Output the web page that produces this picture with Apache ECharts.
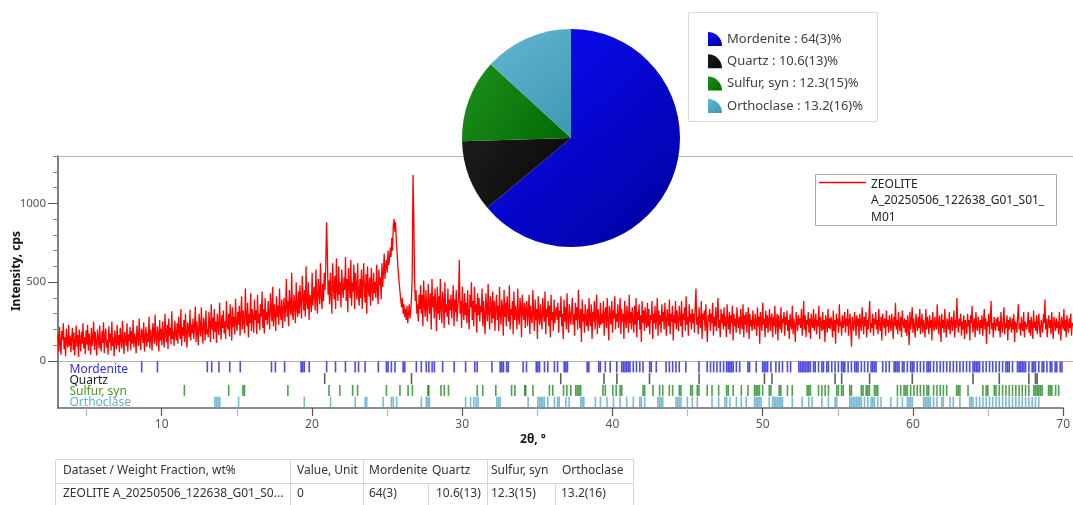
<!DOCTYPE html>
<html><head><meta charset="utf-8">
<script src="https://cdn.jsdelivr.net/npm/echarts@6/dist/echarts.min.js"></script>
<style>html,body{margin:0;padding:0;background:#fff;overflow:hidden}#c{width:1073px;height:505px}</style>
</head><body><div id="c"></div>
<script>
// ---------- DATA ----------
const datasetName = 'ZEOLITE A_20250506_122638_G01_S01_M01';
const twoThetaStart = 3.1;
const twoThetaStep = 0.05;
const intensity = [
 170,60,215,110,40,190,135,240,75,150,30,205,120,85,230,95,160,55,
 140,210,70,180,35,120,225,90,165,25,200,130,60,185,110,240,80,150,45,195,
 105,230,65,175,130,40,210,95,155,250,70,185,120,35,200,145,80,225,100,60,
 190,115,245,50,160,205,85,135,40,220,120,175,65,250,95,150,30,195,140,75,
 230,100,165,55,210,140,80,255,120,45,185,150,95,240,60,170,125,215,70,190,
 110,260,85,175,140,50,225,160,95,270,130,70,205,180,115,245,60,150,215,90,
 175,120,280,80,200,150,65,240,190,110,295,140,95,220,170,60,260,130,205,100,
 250,145,85,300,180,120,230,75,270,160,210,105,315,140,190,95,255,175,130,240,
 110,280,190,140,330,95,215,160,260,120,300,180,85,245,205,150,325,130,230,175,
 270,140,210,345,120,250,180,100,300,220,155,340,190,110,275,235,130,320,170,205,
 150,310,230,120,360,200,275,140,330,185,250,115,300,220,165,370,240,135,290,210,
 320,175,250,140,380,230,200,300,155,360,260,130,340,215,280,170,395,245,190,310,
 230,350,160,290,410,200,320,250,175,460,280,220,370,150,300,240,430,190,330,270,
 180,390,260,320,170,420,240,300,195,360,280,440,210,330,175,400,260,310,230,380,
 290,200,430,330,250,470,220,360,300,190,410,280,350,230,460,310,260,390,210,340,
 400,250,330,520,280,380,220,450,340,290,560,310,260,420,370,240,500,330,280,440,
 300,480,360,270,540,410,320,450,280,600,370,330,500,260,420,390,310,560,350,440,
 470,320,580,390,300,520,440,360,620,410,330,490,380,560,450,600,880,700,420,510,
 360,560,430,300,620,480,390,540,330,650,450,380,600,420,500,340,580,460,400,530,
 450,660,380,520,310,590,470,400,640,350,500,440,610,330,560,480,390,620,420,350,
 520,400,580,330,490,620,440,370,550,300,600,460,410,530,350,590,470,380,560,430,
 500,400,610,450,360,580,480,530,390,620,470,560,680,520,600,640,560,700,610,650,
 720,660,780,700,860,900,820,880,760,690,600,540,480,430,380,340,400,300,360,280,
 330,260,350,240,300,360,270,320,400,560,1180,920,520,380,450,300,360,250,420,330,
 480,300,420,220,510,360,280,450,330,250,490,370,300,430,200,520,340,410,270,460,
 350,190,470,300,410,260,520,330,240,440,380,210,500,310,360,280,460,230,390,320,
 420,270,360,480,220,390,310,450,250,340,400,640,300,380,210,470,330,260,430,290,
 370,240,450,300,200,420,340,500,260,380,220,470,310,360,180,430,290,400,250,350,
 310,460,220,380,280,170,430,330,250,490,300,200,410,350,240,440,270,380,190,340,
 420,260,350,190,470,300,230,390,340,160,450,280,370,220,410,310,250,480,200,330,
 290,380,170,440,260,350,310,200,460,280,230,400,340,150,420,300,260,370,210,330,
 380,220,310,420,170,350,280,240,450,300,190,390,260,330,140,410,290,230,360,270,
 200,400,300,250,440,170,330,280,380,220,350,150,420,260,310,190,390,240,300,340,
 260,370,180,320,280,410,220,300,140,390,250,340,200,430,270,180,360,300,230,320,
 400,230,300,160,370,260,340,200,450,280,210,330,120,390,250,300,180,360,270,220,
 330,190,400,270,220,360,140,310,250,380,200,290,420,170,330,260,210,370,230,300,
 240,380,160,300,340,210,400,260,130,350,290,230,380,180,320,270,410,200,300,250,
 360,210,290,400,170,330,250,300,140,380,260,210,350,280,180,420,240,310,200,340,
 270,180,350,230,400,150,310,260,360,200,290,120,380,240,320,190,340,260,210,370,
 220,330,170,290,260,380,140,300,240,350,200,270,400,160,320,230,290,180,360,250,
 310,200,370,250,160,330,280,220,390,170,300,250,350,130,290,240,380,200,320,260,
 190,350,270,220,380,150,300,260,340,190,410,230,280,160,360,250,300,200,330,240,
 300,180,350,460,230,280,170,340,250,210,380,140,300,260,320,190,360,230,120,290,
 250,330,190,300,240,370,160,280,220,340,190,290,400,210,260,150,330,240,300,200,
 340,220,280,150,360,250,200,310,170,290,240,350,130,300,220,270,180,340,250,210,
 280,170,330,240,200,360,150,290,230,310,180,270,340,140,300,220,260,190,320,240,
 200,300,250,160,340,220,280,110,310,240,190,370,230,270,150,320,210,290,180,260,
 330,190,260,300,150,280,220,350,170,250,300,130,290,230,200,340,180,270,240,310,
 160,280,230,320,190,260,140,300,240,200,350,170,270,220,120,310,250,190,290,230,
 270,210,330,160,250,380,200,290,150,260,230,310,180,270,140,300,240,210,330,190,
 240,300,170,260,220,350,140,280,230,190,310,200,260,120,290,240,180,330,210,270,
 200,280,240,150,320,190,260,110,300,230,270,180,360,220,250,160,290,210,240,310,
 180,270,220,330,160,250,300,200,90,280,230,190,310,250,160,290,220,270,140,300,
 230,190,340,250,170,280,220,310,150,260,200,290,380,180,240,210,300,160,270,230,
 310,200,260,170,330,230,190,280,130,300,250,210,270,160,320,220,260,180,290,240,
 190,300,240,140,280,220,370,200,260,170,310,230,190,280,150,320,240,210,270,180,
 260,160,290,230,100,310,200,250,340,180,270,220,150,300,240,190,280,210,330,170,
 240,300,180,260,220,150,330,200,280,240,170,290,210,260,130,310,230,190,280,220,
 200,360,230,170,290,240,120,300,210,260,180,330,220,150,270,240,200,310,170,250,
 280,190,240,320,150,260,210,400,230,180,270,220,300,160,250,200,290,140,260,230,
 170,300,220,260,130,290,240,350,180,230,270,150,310,220,190,280,240,170,260,210,
 290,160,240,330,200,270,110,250,220,300,170,260,380,200,240,150,280,230,190,270,
 220,280,190,250,150,310,230,180,260,340,170,240,210,290,130,260,200,280,230,180,
 270,200,300,120,250,230,180,290,360,200,240,160,280,220,190,310,150,250,230,200,
 240,310,180,260,160,280,220,140,320,210,250,190,290,170,240,300,200,150,260,230,
 180,300,240,390,200,270,150,230,290,210,260,170,310,220,140,280,240,190,270,210,
 250,170,310,220,130,280,240,200,330,190,260,150,290,230,180,270,210,300,160,240,
 220
];
const phaseNames = ['Mordenite', 'Quartz', 'Sulfur, syn', 'Orthoclase'];
const phaseFractions = [64, 10.6, 12.3, 13.2];
const phaseErrors = ['3', '13', '15', '16'];
const mordeniteRefl = [8.67,9.72,13.04,13.33,13.81,14.53,15.23,17.31,17.57,18.18,19.28,19.38,19.49,19.82,20.98,21.57,22.23,22.88,23.10,23.54,24.42,24.96,25.07,25.29,25.53,26.07,26.18,26.95,27.28,27.61,27.78,28.00,28.15,28.70,29.47,30.23,30.84,31.00,31.98,32.53,32.64,32.75,32.96,33.07,34.06,34.28,34.93,35.04,35.15,35.48,35.70,36.14,36.35,36.79,36.90,37.01,38.32,38.43,39.09,39.20,39.53,39.85,40.29,40.62,40.73,40.84,40.95,41.06,41.17,41.39,41.60,41.82,42.04,42.48,42.59,42.92,43.57,43.79,44.01,44.23,44.45,44.89,45.76,46.31,46.53,46.74,46.96,47.18,47.40,47.60,47.71,47.82,47.93,48.04,48.25,48.47,49.02,49.13,49.57,50.00,50.11,50.22,50.33,50.55,50.88,51.10,51.32,51.65,51.86,52.41,52.52,52.63,52.74,52.85,52.96,53.07,53.18,53.39,53.50,53.72,53.94,54.05,54.27,54.38,54.60,54.82,55.04,55.25,55.36,55.47,55.69,55.91,56.13,56.24,56.35,56.57,56.78,57.00,57.22,57.33,57.44,57.55,57.99,58.21,58.43,58.75,58.86,58.97,59.08,59.30,59.41,59.63,59.85,59.96,60.07,60.29,60.50,60.72,60.94,61.05,61.16,61.38,61.60,61.82,62.03,62.25,62.47,62.69,62.91,63.13,63.35,63.57,63.78,64.00,64.11,64.22,64.33,64.44,64.66,64.88,65.10,65.31,65.53,65.75,65.97,66.19,66.30,66.41,66.63,66.96,67.07,67.17,67.28,67.39,67.50,67.72,67.94,68.05,68.16,68.38,68.60,68.71,68.92,69.14,69.25,69.47,69.58,69.80,69.92];
const quartzRefl = [20.85,26.63,36.56,39.44,40.30,42.47,45.77,50.12,50.62,54.82,55.26,57.12,59.96,64.00,65.75,67.72,68.16,68.27];
const sulfurRefl = [11.51,14.46,15.41,15.51,18.40,21.14,21.86,22.71,23.04,24.96,25.86,26.40,26.69,27.72,27.78,28.59,28.81,29.09,31.00,31.37,32.24,33.29,33.51,34.17,34.23,34.71,35.81,36.03,36.75,36.97,37.23,37.56,37.67,37.78,37.89,39.37,39.53,40.03,40.25,40.51,40.62,42.04,42.15,42.70,43.14,43.35,43.79,44.01,44.45,44.56,45.21,45.32,45.65,45.76,46.31,46.63,47.07,47.60,47.71,48.04,48.58,49.02,49.46,49.57,49.68,49.79,50.00,50.44,50.55,51.10,51.21,51.65,51.97,52.96,53.07,53.18,53.72,53.94,54.16,54.38,54.93,55.04,55.25,55.36,55.80,55.91,56.57,56.68,56.89,57.00,57.11,57.44,57.55,57.66,58.97,59.19,59.41,59.52,59.63,59.85,60.07,60.29,60.50,60.72,60.94,61.05,61.38,61.60,61.82,62.03,62.25,62.91,63.02,63.13,63.67,64.66,64.88,64.99,65.42,65.53,65.75,65.97,66.19,66.41,66.63,66.85,67.07,67.28,67.50,67.72,68.05,68.16,68.27,68.38,68.49,68.60,69.03,69.14,69.25,69.50,69.70];
const orthoclaseRefl = [13.54,13.65,13.76,13.87,15.12,19.49,21.24,22.88,23.54,23.65,24.74,25.29,25.42,25.64,27.28,27.61,27.72,27.82,30.23,30.56,30.78,30.93,31.06,32.31,32.42,32.53,34.39,35.04,35.15,35.26,35.37,35.48,35.70,36.14,36.35,36.46,36.90,37.12,37.89,38.00,38.10,38.87,39.20,39.64,40.07,40.51,40.95,41.39,41.82,41.93,42.15,43.03,43.14,43.25,43.35,44.23,44.34,44.45,44.56,44.99,45.32,45.65,46.63,47.07,47.49,47.60,47.82,48.25,48.58,48.91,49.46,49.57,49.68,49.79,49.90,50.44,50.66,50.77,50.88,50.99,51.10,51.21,51.32,51.97,52.63,53.07,53.29,53.94,54.38,54.82,54.93,55.80,55.91,56.02,56.13,56.24,56.35,56.46,56.57,56.78,57.00,57.22,57.33,57.44,57.66,57.88,58.53,58.97,59.30,59.63,59.74,59.85,59.96,60.72,60.83,60.94,61.05,61.16,61.38,61.60,61.92,62.03,62.47,62.69,63.13,63.78,63.89,64.00,64.22,64.44,64.66,64.88,65.10,65.31,65.53,65.75,65.97,66.19,66.41,66.63,66.85,67.07,67.28,67.50,67.72,67.94,68.16,68.38];
const xTickLabels = [10, 20, 30, 40, 50, 60, 70];
const xMinorTicks = [5, 15, 25, 35, 45, 55, 65];
const yTickLabels = [0, 500, 1000];
const xAxisMin = 3.1, xAxisMax = 70, yAxisMax = 1300, yMinorStep = 100;
const xAxisTitle = '2θ, °';
const yAxisTitle = 'Intensity, cps';
const tableHeaders = ['Dataset / Weight Fraction, wt%', 'Value, Unit', 'Mordenite', 'Quartz', 'Sulfur, syn', 'Orthoclase'];
const tableValue = '0';

// ---------- STYLE ----------
const FONT = '"Noto Sans", "DejaVu Sans", sans-serif';
const phaseTickColors = ['rgba(20,20,220,0.95)', '#333333', 'rgba(15,125,15,0.92)', 'rgba(80,165,195,0.95)'];
const phaseLabelColors = ['#2b2bff', '#1a1a1a', '#4a9a20', '#5ab4d4'];
const lg = (a, b) => ({type: 'linear', x: 0, y: 0, x2: 1, y2: 1, colorStops: [{offset: 0, color: a}, {offset: 1, color: b}]});
const pieColors = [lg('#0c0cff', '#00009c'), lg('#1c1c1c', '#080808'), lg('#1e901e', '#006a00'), lg('#64b6ce', '#3c98b4')];

const lineData = intensity.map((v, i) => [+(twoThetaStart + i * twoThetaStep).toFixed(2), v]);
const reflSets = [mordeniteRefl, quartzRefl, sulfurRefl, orthoclaseRefl];

const chart = echarts.init(document.getElementById('c'), null, {renderer: 'canvas'});

const gridL = 58, gridR = -2;
const scatterSeries = reflSets.map((arr, k) => ({
  type: 'scatter', xAxisIndex: 2, yAxisIndex: 2, silent: true, animation: false,
  symbol: 'rect', symbolSize: [1.6, 11],
  itemStyle: {color: phaseTickColors[k]},
  data: arr.map(p => [p, k + 0.5]), z: 3
}));

// table geometry
const colX = [55, 290, 363, 428, 487, 555, 633];
const tTop = 459, tMid = 483, tBot = 506;
const rowTexts = [datasetName.slice(0, 32) + '...', tableValue].concat(phaseFractions.map((f, i) => f + '(' + phaseErrors[i] + ')'));
const tableGraphics = [];
tableGraphics.push({type: 'rect', shape: {x: colX[0] + 0.5, y: tTop + 0.5, width: colX[6] - colX[0], height: tBot - tTop}, style: {fill: '#fff', stroke: '#d6d6d6', lineWidth: 1}});
tableGraphics.push({type: 'line', shape: {x1: colX[0], y1: tMid + 0.5, x2: colX[6], y2: tMid + 0.5}, style: {stroke: '#d6d6d6', lineWidth: 1}});
[1, 2, 4].forEach(i => tableGraphics.push({type: 'line', shape: {x1: colX[i] + 0.5, y1: tTop, x2: colX[i] + 0.5, y2: tBot}, style: {stroke: '#d6d6d6', lineWidth: 1}}));
[3, 5].forEach(i => tableGraphics.push({type: 'line', shape: {x1: colX[i] + 0.5, y1: tMid, x2: colX[i] + 0.5, y2: tBot}, style: {stroke: '#d6d6d6', lineWidth: 1}}));
const headX = [63, 297, 369, 432, 491, 562];
const dataX = [63, 297, 369, 436, 491, 561];
tableHeaders.forEach((t, i) => tableGraphics.push({type: 'text', x: headX[i], y: 471, style: {text: t, fill: '#333', font: '12px ' + FONT, verticalAlign: 'middle'}}));
rowTexts.forEach((t, i) => tableGraphics.push({type: 'text', x: dataX[i], y: 494, style: {text: t, fill: '#333', font: '12px ' + FONT, verticalAlign: 'middle'}}));

const stripLabelY = [369.5, 380.5, 391.5, 403];
const stripLabels = phaseNames.map((n, k) => ({type: 'text', x: 69.5, y: stripLabelY[k], z: 10,
  style: {text: n, fill: phaseLabelColors[k], font: '12px ' + FONT, verticalAlign: 'middle'}}));

const lineLegendName = datasetName.split(' ');
const lineLegendText = [lineLegendName[0], lineLegendName[1].slice(0, 26), lineLegendName[1].slice(26)].join('\n');

const option = {
  backgroundColor: '#fff',
  animation: false,
  textStyle: {fontFamily: FONT},
  grid: [
    {left: gridL, right: gridR, top: 156, height: 205, containLabel: false},
    {left: gridL, right: gridR, top: 361, height: 47, containLabel: false}
  ],
  xAxis: [
    {gridIndex: 0, type: 'value', min: xAxisMin, max: xAxisMax, position: 'bottom',
     axisLine: {show: true, onZero: false, lineStyle: {color: '#b4b4b4', width: 1}}, axisTick: {show: false}, axisLabel: {show: false}, splitLine: {show: false}},
    {gridIndex: 0, type: 'value', min: xAxisMin, max: xAxisMax, position: 'top',
     axisLine: {show: true, onZero: false, lineStyle: {color: '#b4b4b4', width: 1}}, axisTick: {show: false}, axisLabel: {show: false}, splitLine: {show: false}},
    {gridIndex: 1, type: 'value', min: xAxisMin, max: xAxisMax, position: 'bottom',
     axisLine: {show: true, onZero: false, lineStyle: {color: '#666', width: 1.5}},
     axisTick: {show: true, customValues: xTickLabels, length: 8, lineStyle: {color: '#555', width: 1.2}},
     axisLabel: {show: true, customValues: xTickLabels, margin: 11, color: '#555', fontSize: 12, fontFamily: FONT, formatter: v => String(v)},
     splitLine: {show: false}},
    {gridIndex: 1, type: 'value', min: xAxisMin, max: xAxisMax, position: 'bottom',
     axisLine: {show: false, onZero: false},
     axisTick: {show: true, customValues: xMinorTicks, length: 8, lineStyle: {color: '#b8b8b8', width: 1.2}},
     axisLabel: {show: false}, splitLine: {show: false}}
  ],
  yAxis: [
    {gridIndex: 0, type: 'value', min: 0, max: yAxisMax, interval: yMinorStep, position: 'left',
     axisLine: {show: true, onZero: false, lineStyle: {color: '#555', width: 1.5}},
     axisTick: {show: true, length: 5, lineStyle: {color: '#8a8a8a'}}, axisLabel: {show: false}, splitLine: {show: false}},
    {gridIndex: 0, type: 'value', min: 0, max: yAxisMax, position: 'left',
     axisLine: {show: false, onZero: false},
     axisTick: {show: true, customValues: yTickLabels, length: 10, lineStyle: {color: '#555'}},
     axisLabel: {show: true, customValues: yTickLabels, margin: 12, color: '#555', fontSize: 11.5, fontFamily: FONT, formatter: v => String(v)},
     splitLine: {show: false}},
    {gridIndex: 1, type: 'value', min: 0, max: 4, inverse: true, position: 'left',
     axisLine: {show: true, onZero: false, lineStyle: {color: '#555', width: 1.5}},
     axisTick: {show: false}, axisLabel: {show: false}, splitLine: {show: false}}
  ],
  legend: {
    data: phaseNames, orient: 'vertical', left: 703, top: 27, itemWidth: 14, itemHeight: 14, itemGap: 8.3,
    icon: 'path://M0,0 A10,10 0 0 1 10,10 L0,10 Z', selectedMode: false, z: 6,
    textStyle: {fontSize: 13, color: '#404040', lineHeight: 14, fontFamily: FONT},
    formatter: name => {
      const i = phaseNames.indexOf(name);
      return name + ' : ' + phaseFractions[i] + '(' + phaseErrors[i] + ')%';
    }
  },
  series: [
    {type: 'line', name: datasetName, xAxisIndex: 0, yAxisIndex: 0, data: lineData, showSymbol: false,
     symbol: 'none', lineStyle: {color: '#ff0000', width: 1.3}, silent: true, clip: true, z: 2},
    ...scatterSeries,
    {type: 'pie', center: [571, 138], radius: 109, startAngle: 90, clockwise: true, silent: true, z: 5,
     label: {show: false}, labelLine: {show: false},
     data: phaseNames.map((n, i) => ({name: n, value: phaseFractions[i], itemStyle: {color: pieColors[i]}}))}
  ],
  graphic: [
    {type: 'rect', z: 0, shape: {x: 688.5, y: 12.5, width: 189, height: 109}, style: {fill: '#fff', stroke: '#dadada', lineWidth: 1}},
    {type: 'rect', z: 0, shape: {x: 815.5, y: 174.5, width: 241, height: 51}, style: {fill: '#fff', stroke: '#a8a8a8', lineWidth: 1}},
    {type: 'line', z: 1, shape: {x1: 819, y1: 182.5, x2: 866, y2: 182.5}, style: {stroke: '#ff0000', lineWidth: 1.5}},
    {type: 'text', z: 1, x: 871, y: 176, style: {text: lineLegendText, fill: '#222', font: '12px ' + FONT, lineHeight: 16.7, verticalAlign: 'top'}},
    {type: 'text', x: 17, y: 271, rotation: Math.PI / 2, style: {text: yAxisTitle, fill: '#111', font: 'bold 12px ' + FONT, align: 'center', verticalAlign: 'middle'}},
    {type: 'text', x: 533, y: 440, style: {text: xAxisTitle, fill: '#111', font: 'bold 12px ' + FONT, align: 'center', verticalAlign: 'middle'}},
    ...stripLabels,
    ...tableGraphics
  ]
};
chart.setOption(option);
</script>
</body></html>
